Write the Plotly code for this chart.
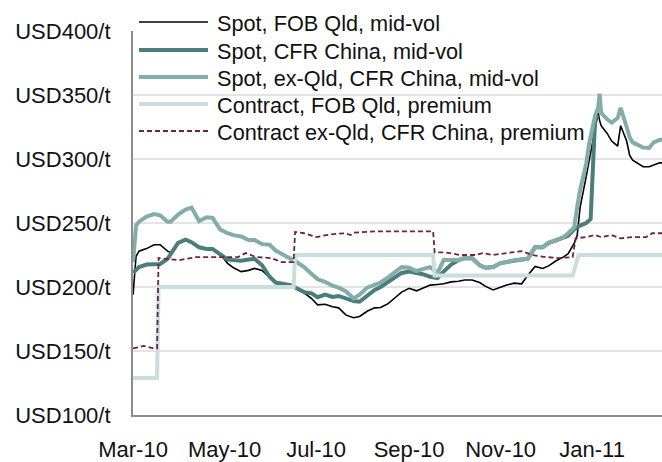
import plotly.graph_objects as go

# ---------------- data ----------------
spot_dates = [
    "2010-03-01", "2010-03-03", "2010-03-05", "2010-03-10", "2010-03-15", "2010-03-19", "2010-03-24", "2010-03-26", "2010-03-31",
    "2010-04-05", "2010-04-09", "2010-04-14", "2010-04-19", "2010-04-23", "2010-04-28",
    "2010-05-03", "2010-05-07", "2010-05-12", "2010-05-17", "2010-05-21", "2010-05-26", "2010-05-31",
    "2010-06-04", "2010-06-09", "2010-06-14", "2010-06-18", "2010-06-23", "2010-06-28",
    "2010-07-02", "2010-07-07", "2010-07-12", "2010-07-16", "2010-07-21", "2010-07-26", "2010-07-30",
    "2010-08-04", "2010-08-09", "2010-08-13", "2010-08-18", "2010-08-23", "2010-08-27",
    "2010-09-01", "2010-09-06", "2010-09-10", "2010-09-15", "2010-09-20", "2010-09-24", "2010-09-29",
    "2010-10-04", "2010-10-08", "2010-10-13", "2010-10-18", "2010-10-22", "2010-10-27",
    "2010-11-01", "2010-11-05", "2010-11-10", "2010-11-15", "2010-11-19", "2010-11-24", "2010-11-29",
    "2010-12-03", "2010-12-08", "2010-12-13", "2010-12-16", "2010-12-20", "2010-12-22", "2010-12-24", "2010-12-28", "2010-12-30",
    "2011-01-03", "2011-01-05", "2011-01-06", "2011-01-07", "2011-01-11", "2011-01-14", "2011-01-18", "2011-01-20", "2011-01-24", "2011-01-26", "2011-01-28",
    "2011-02-01", "2011-02-04", "2011-02-08", "2011-02-11", "2011-02-15", "2011-02-17",
]

spot_fob_qld = [
    194, 224, 228, 230, 233, 233, 228, 227, 234,
    237, 235, 231, 229.7, 229.7, 226,
    218.5, 215, 212, 213, 214.5, 213, 207.5,
    204, 202.5, 200.8, 198.5, 195.5, 191,
    186, 186.5, 184.5, 183.7, 178, 176, 177,
    181, 183.7, 184, 187, 192, 196,
    199, 197, 199, 201.5, 202, 202.5, 204,
    204.5, 205.5, 205.5, 203.5, 200.5, 197.7,
    200, 201.5, 203, 202.5, 209, 216, 214.5,
    216.5, 220.5, 223.5, 226, 234, 240, 262.5, 286, 298,
    322.6, 336, 330, 326, 320, 314, 310, 326, 314, 303, 299,
    296, 294, 294, 295.5, 297, 297,
]

spot_exqld_cfr = [
    219.5, 248, 251, 255, 257, 256, 251, 251, 256.5,
    260.5, 262, 251.5, 254.5, 254, 245,
    242, 240.5, 239.5, 236.7, 236.7, 233.5, 233,
    228.5, 225.5, 222.5, 219.5, 215.5, 210.5,
    206, 204, 201, 199.5, 196.5, 191, 194,
    199.5, 202, 203.5, 207.5, 212, 215.5,
    215, 212.5, 214, 215.5, 211, 221, 221,
    221, 222.6, 222.5, 217, 215, 215.6,
    218.7, 219.5, 221, 221.5, 222, 231, 231,
    234.5, 236.5, 239, 242, 246.5, 262.5, 276, 296, 312,
    334, 340, 351, 336, 331, 328.5, 332, 340, 325, 317, 313,
    310.5, 309, 308.6, 313, 315, 315,
]

cfr_dates = spot_dates[:70] + ["2010-12-31", "2011-01-03", "2011-01-05"]
spot_cfr_china = [
    211, 213.5, 215.6, 217.5, 218, 218, 222, 226, 234.5,
    237, 235, 231, 229.7, 229.7, 226,
    221.5, 221, 220.5, 221.5, 222, 217, 208,
    203.5, 202.5, 201.5, 199, 196, 195,
    192, 194, 192.3, 193, 190.6, 189, 188.5,
    193.5, 197.7, 200, 204, 208.5, 211,
    212, 211, 210, 208, 207, 212, 217.5,
    221, 222.6, 222.5, 217, 215, 215.6,
    218.7, 219.5, 221, 221.5, 222, 231, 231,
    234.5, 236.5, 239, 240, 245, 247, 248, 250, 251.5,
    253, 332, 334,
]

contract_fob_dates = ["2010-03-01", "2010-03-17", "2010-03-18", "2010-06-16", "2010-06-17",
                      "2010-09-17", "2010-09-18", "2010-12-19", "2010-12-23", "2011-02-17"]
contract_fob_qld = [129, 129, 200, 200, 225, 225, 209, 209, 225, 225]

contract_cfr_dates = [
    "2010-03-01", "2010-03-08", "2010-03-15", "2010-03-17", "2010-03-18", "2010-04-01", "2010-04-12",
    "2010-05-10", "2010-05-15", "2010-05-22", "2010-06-01", "2010-06-08", "2010-06-16", "2010-06-17",
    "2010-06-23", "2010-07-01", "2010-07-10", "2010-07-20", "2010-07-24", "2010-07-26", "2010-08-10",
    "2010-09-17", "2010-09-18", "2010-09-25", "2010-10-05", "2010-10-15", "2010-10-20", "2010-10-27",
    "2010-11-05", "2010-11-15", "2010-11-22", "2010-12-01", "2010-12-10", "2010-12-19", "2010-12-21",
    "2010-12-28", "2011-01-03", "2011-01-07", "2011-01-14", "2011-01-20", "2011-01-28", "2011-02-06",
    "2011-02-10", "2011-02-17",
]
contract_exqld_cfr = [
    152, 154, 152, 152, 222.6, 221, 223.4,
    223.4, 226.5, 223.4, 222.6, 219.5, 219.5, 243,
    242, 239, 241, 242, 240.6, 242.5, 243.5,
    243.5, 227, 227, 225, 225, 226.5, 225,
    226.5, 228, 225, 223.4, 222.6, 223.4, 238,
    239, 240.6, 239, 240.6, 238, 239, 239,
    242, 242,
]

series_names = [
    "Spot, FOB Qld, mid-vol",
    "Spot, CFR China, mid-vol",
    "Spot, ex-Qld, CFR China, mid-vol",
    "Contract, FOB Qld, premium",
    "Contract ex-Qld, CFR China, premium",
]

x_tick_dates = ["2010-03-01", "2010-05-01", "2010-07-01", "2010-09-01", "2010-11-01", "2011-01-01"]
x_tick_labels = ["Mar-10", "May-10", "Jul-10", "Sep-10", "Nov-10", "Jan-11"]
y_tick_vals = [100, 150, 200, 250, 300, 350, 400]
y_tick_labels = ["USD100/t", "USD150/t", "USD200/t", "USD250/t", "USD300/t", "USD350/t", "USD400/t"]

# ---------------- styles ----------------
styles = [
    dict(color="#000000", width=1.6, dash="solid"),
    dict(color="#4a7e7c", width=4, dash="solid"),
    dict(color="#84ada9", width=4, dash="solid"),
    dict(color="#c9dedd", width=4, dash="solid"),
    dict(color="#6e243d", width=1.8, dash="5px,3px"),
]

FONT = "Liberation Sans, Arial, sans-serif"
TEXT = "#111111"

xs = [spot_dates, cfr_dates, spot_dates, contract_fob_dates, contract_cfr_dates]
ys = [spot_fob_qld, spot_cfr_china, spot_exqld_cfr, contract_fob_qld, contract_exqld_cfr]

fig = go.Figure()
for name, x, y, st in zip(series_names, xs, ys, styles):
    fig.add_trace(go.Scatter(x=x, y=y, mode="lines", name=name, line=st,
                             showlegend=False, hoverinfo="skip"))

W, H = 662, 462
L, R, T, B = 133, 0, 31, 47
pw, ph = W - L - R, H - T - B

def px_x(p):
    return (p - L) / pw

def px_y(p):
    return (H - B - p) / ph

# manual legend (long line samples like the original)
shapes = []
annotations = []
row_y = [22, 50, 77, 104, 131]
for name, st, ry in zip(series_names, styles, row_y):
    shapes.append(dict(type="line", xref="paper", yref="paper",
                       x0=px_x(139), x1=px_x(208), y0=px_y(ry), y1=px_y(ry),
                       line=dict(color=st["color"], width=st["width"], dash=st["dash"])))
    annotations.append(dict(xref="paper", yref="paper", x=px_x(215), y=px_y(ry + 1),
                            text=name, showarrow=False, xanchor="left", yanchor="middle",
                            font=dict(family=FONT, size=21.7, color=TEXT)))

fig.update_layout(
    width=W, height=H,
    margin=dict(l=L, r=R, t=T, b=B, pad=0, autoexpand=False),
    paper_bgcolor="white", plot_bgcolor="white",
    showlegend=False,
    shapes=shapes,
    annotations=annotations,
    font=dict(family=FONT, size=22, color=TEXT),
    xaxis=dict(
        type="date", automargin=False,
        range=["2010-02-28 23:00", "2011-02-16 13:30"],
        tickvals=x_tick_dates, ticktext=x_tick_labels,
        showgrid=False, zeroline=False,
        showline=True, linecolor="#8c8c8c", linewidth=2,
        ticks="", ticklabelstandoff=14,
        tickfont=dict(family=FONT, size=22, color=TEXT),
    ),
    yaxis=dict(
        range=[100, 400], automargin=False,
        tickvals=y_tick_vals, ticktext=y_tick_labels,
        showgrid=True, gridcolor="#e4e4e4", gridwidth=1.5,
        zeroline=False,
        showline=True, linecolor="#8c8c8c", linewidth=2,
        ticks="", ticklabelstandoff=16,
        tickfont=dict(family=FONT, size=22, color=TEXT),
    ),
)

fig.write_html(
    "out.html",
    config={"displayModeBar": False},
    post_script="document.body.style.margin='0';document.body.style.overflow='hidden';",
)
